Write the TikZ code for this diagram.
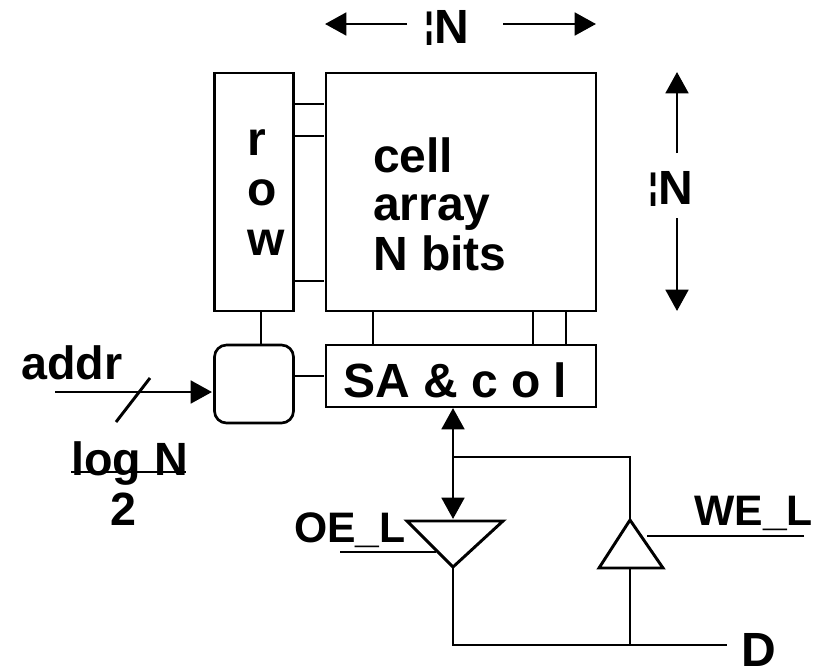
\documentclass[tikz,border=0pt]{standalone}
\usepackage{fontspec}
\setmainfont{Liberation Sans}
\usetikzlibrary{arrows.meta}
\newcommand{\brokenbar}{\raisebox{4pt}{\fontsize{27}{29}\selectfont ¦}}
\tikzset{
    wire/.style={line width=2.2pt},
    blockbox/.style={draw, line width=2pt, inner sep=0pt, outer sep=0pt},
    lbl/.style={font=\fontsize{36}{38}\selectfont\bfseries, inner sep=0pt, anchor=base west},
    sigl/.style={lbl, font=\fontsize{32}{34}\selectfont\bfseries},
}
\begin{document}
\begin{tikzpicture}[x=0.75pt, y=-0.75pt, >={Triangle[length=16pt,width=17pt]}]
    \useasboundingbox (0,0) rectangle (823,668);

    % 存储阵列
    \node[blockbox, minimum width=202.5pt, minimum height=178.5pt, anchor=north west] (cellbox) at (326,73) {};
    \node[blockbox, minimum width=59.25pt, minimum height=178.5pt, anchor=north west] (rowbox) at (214.5,73) {};
    \node[blockbox, minimum width=202.5pt, minimum height=46.5pt, anchor=north west] (sabox) at (326,345) {};
    \node[blockbox, rounded corners=9pt, minimum width=59.25pt, minimum height=58.5pt, anchor=north west] (decbox) at (214.5,345) {};

    % 文字
    \node[lbl] (rlbl) at (247,155) {r};
    \node[lbl] (olbl) at (247,205) {o};
    \node[lbl] (wlbl) at (247,255) {w};
    \node[lbl] (celllbl) at (373,172) {cell};
    \node[lbl] (arraylbl) at (373,220) {array};
    \node[lbl] (bitslbl) at (373,270) {N bits};
    \node[lbl] (salbl) at (343,397) {SA \& c o l};
    \node[lbl, font=\fontsize{35}{37}\selectfont\bfseries] (addrlbl) at (21,379) {addr};
    \node[lbl, font=\fontsize{35}{37}\selectfont\bfseries] (loglbl) at (71,475) {log N};
    \node[lbl, font=\fontsize{35}{37}\selectfont\bfseries] (twolbl) at (110,525) {2};
    \node[sigl] (oelbl) at (294,542) {OE\_L};
    \node[sigl] (welbl) at (694,525) {WE\_L};
    \node[lbl] (dlbl) at (741,666) {D};
    \node[lbl] (toplbl) at (424,43) {\brokenbar N};
    \node[lbl] (sidelbl) at (648,204) {\brokenbar N};

    % 行线与列线
    \foreach \y/\name in {104/ra, 136/rb, 281/rc} {
        \coordinate (\name) at (295,\y);
        \draw[wire] (\name) -- (324,\y);
    }
    \foreach \x/\name in {373/ca, 533/cb, 566/cc} {
        \coordinate (\name) at (\x,311);
        \draw[wire] (\name) -- (\x,345);
    }
    \draw[wire] (rowbox.south -| 261,311) -- (decbox.north -| 261,345);
    \draw[wire] (295,376) -- (324,376);

    % 尺寸箭头
    \coordinate (tla) at (407,24);
    \coordinate (tlb) at (325,24);
    \coordinate (tra) at (503,24);
    \coordinate (trb) at (596,24);
    \coordinate (sua) at (677,153);
    \coordinate (sub) at (677,72);
    \coordinate (sda) at (677,218);
    \coordinate (sdb) at (677,311);
    \draw[wire, ->] (tla) -- (tlb);
    \draw[wire, ->] (tra) -- (trb);
    \draw[wire, ->] (sua) -- (sub);
    \draw[wire, ->] (sda) -- (sdb);

    % 地址输入
    \coordinate (addrin) at (55,392);
    \coordinate (addrend) at (212,392);
    \draw[wire, ->] (addrin) -- (addrend);
    \coordinate (slasha) at (116,422);
    \coordinate (slashb) at (150,378);
    \draw[wire] (slasha) -- (slashb);
    \coordinate (loga) at (71,472);
    \coordinate (logb) at (186,472);
    \draw[wire] (loga) -- (logb);

    % 三态缓冲器
    \coordinate (oea) at (407,521);
    \coordinate (oeb) at (503,521);
    \coordinate (oec) at (453,567);
    \draw[wire] (oea) -- (oeb) -- (oec) -- cycle;
    \coordinate (wea) at (630,520);
    \coordinate (web) at (663,568);
    \coordinate (wec) at (599,568);
    \draw[wire] (wea) -- (web) -- (wec) -- cycle;

    % 数据总线
    \coordinate (bustop) at (453,408);
    \coordinate (busbot) at (453,519);
    \draw[wire, <->] (bustop) -- (busbot);
    \coordinate (busj) at (453,457);
    \coordinate (wej) at (630,457);
    \draw[wire] (busj) -- (wej) -- (wea);
    \coordinate (dout) at (727,645);
    \coordinate (dl) at (453,645);
    \coordinate (dj) at (630,645);
    \draw[wire] (oec) -- (dl) -- (dout);
    \draw[wire] (dj) -- (630,568);

    % 使能信号
    \coordinate (oein) at (340,552);
    \coordinate (oeend) at (436,552);
    \draw[wire] (oein) -- (oeend);
    \coordinate (wein) at (804,536);
    \coordinate (weend) at (647,536);
    \draw[wire] (wein) -- (weend);
\end{tikzpicture}
\end{document}
